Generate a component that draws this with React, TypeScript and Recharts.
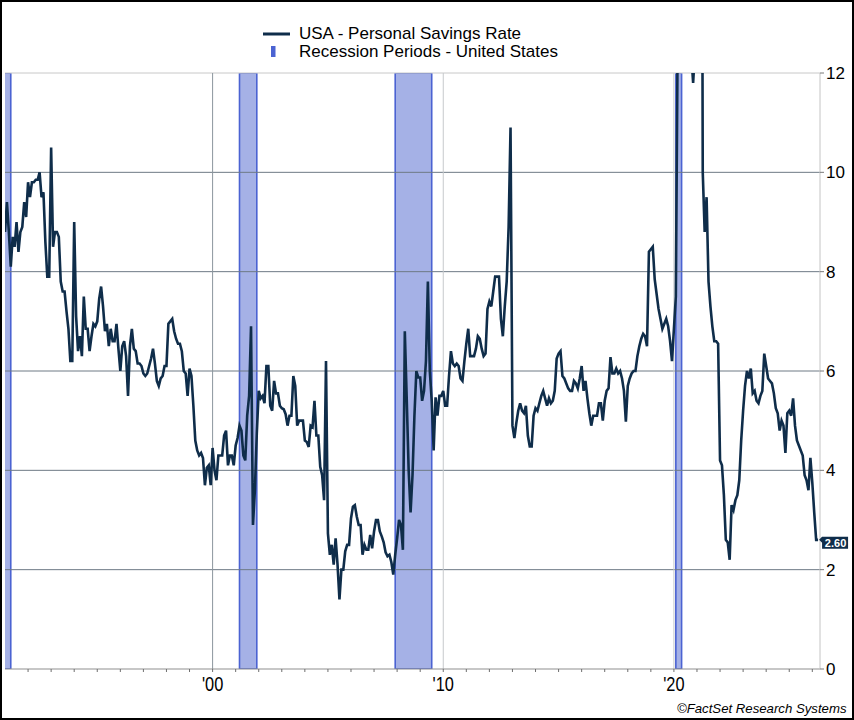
import React from 'react';
import {
  LineChart,
  Line,
  XAxis,
  YAxis,
  ReferenceArea,
  ReferenceLine,
  ReferenceDot,
} from 'recharts';

// monthly personal savings rate, Jan of each year onward
const START_YEAR = 1991;
const rate1991 = [8.8, 9.4, 8.8, 8.1, 8.7, 8.5, 9.0, 8.4, 8.8, 8.9, 9.4, 9.1];
const rate1992 = [9.8, 9.5, 9.8, 9.8, 9.85, 9.85, 10.0, 9.5, 9.6, 8.6, 7.9, 7.9];
const rate1993 = [10.5, 8.5, 8.8, 8.8, 8.7, 7.8, 7.6, 7.6, 7.2, 6.85, 6.2, 6.2];
const rate1994 = [9.0, 7.1, 6.4, 6.7, 6.3, 7.5, 6.85, 6.85, 6.4, 6.7, 6.95, 6.9];
const rate1995 = [7.0, 7.45, 7.7, 7.3, 6.8, 6.95, 6.5, 6.85, 6.6, 6.6, 6.95, 6.45];
const rate1996 = [6.0, 6.5, 6.6, 6.3, 5.5, 6.5, 6.85, 6.45, 6.4, 6.15, 6.15, 6.1];
const rate1997 = [5.95, 5.9, 5.95, 6.1, 6.25, 6.45, 6.15, 5.8, 5.7, 5.85, 5.9, 6.1];
const rate1998 = [6.1, 6.95, 7.0, 7.05, 6.8, 6.65, 6.55, 6.55, 6.4, 6.0, 5.95, 5.5];
const rate1999 = [6.05, 5.9, 5.3, 4.6, 4.4, 4.3, 4.35, 4.25, 3.7, 4.05, 4.1, 3.7];
const rate2000 = [4.45, 4.0, 3.8, 4.3, 4.3, 4.3, 4.7, 4.8, 4.1, 4.3, 4.3, 4.1];
const rate2001 = [4.5, 4.65, 4.9, 4.8, 4.3, 4.2, 5.1, 5.5, 6.9, 2.9, 3.6, 4.75];
const rate2002 = [5.6, 5.45, 5.5, 5.35, 6.1, 6.1, 5.3, 5.2, 5.8, 5.55, 5.55, 5.3];
const rate2003 = [5.25, 5.23, 5.13, 4.9, 5.1, 5.1, 5.9, 5.7, 4.9, 5.0, 5.0, 5.0];
const rate2004 = [4.6, 4.57, 4.47, 4.9, 4.87, 5.4, 4.7, 4.7, 4.07, 3.9, 3.4, 6.2];
const rate2005 = [2.73, 2.3, 2.5, 2.1, 2.63, 2.1, 1.4, 2.0, 2.0, 2.37, 2.5, 2.5];
const rate2006 = [3.03, 3.27, 3.3, 3.07, 2.9, 2.9, 2.3, 2.5, 2.4, 2.4, 2.7, 2.43];
const rate2007 = [2.77, 3.0, 3.0, 2.77, 2.67, 2.55, 2.35, 2.27, 2.3, 2.15, 1.9, 2.3];
const rate2008 = [2.63, 3.0, 2.9, 2.4, 6.8, 5.43, 4.0, 3.15, 3.9, 5.1, 6.0, 5.87];
const rate2009 = [5.87, 5.4, 5.6, 6.2, 7.8, 6.0, 5.4, 4.4, 5.47, 5.1, 5.5, 5.5];
const rate2010 = [5.6, 5.3, 5.3, 5.9, 6.4, 6.15, 6.1, 6.15, 6.1, 5.85, 5.8, 6.2];
const rate2011 = [6.55, 6.85, 6.3, 6.3, 6.3, 6.45, 6.7, 6.65, 6.45, 6.3, 6.35, 7.25];
const rate2012 = [7.4, 7.3, 7.6, 7.9, 7.9, 7.9, 7.05, 6.7, 7.3, 7.8, 8.9, 10.9];
const rate2013 = [4.9, 4.65, 4.95, 5.2, 5.35, 5.2, 5.15, 5.3, 4.7, 4.48, 4.48, 5.1];
const rate2014 = [5.25, 5.2, 5.35, 5.5, 5.6, 5.45, 5.3, 5.45, 5.35, 5.4, 5.6, 6.25];
const rate2015 = [6.35, 6.4, 5.9, 5.85, 5.75, 5.65, 5.6, 5.6, 5.8, 5.75, 5.65, 5.85];
const rate2016 = [6.1, 5.6, 5.8, 5.45, 5.15, 4.9, 5.1, 5.1, 5.1, 5.35, 5.35, 5.0];
const rate2017 = [5.4, 5.6, 5.65, 6.28, 5.95, 5.95, 6.05, 5.95, 6.0, 5.85, 5.6, 4.98];
const rate2018 = [5.7, 5.85, 5.95, 6.0, 6.0, 6.3, 6.5, 6.65, 6.75, 6.7, 6.5, 8.4];
const rate2019 = [8.45, 8.5, 7.85, 7.55, 7.25, 7.05, 6.85, 6.95, 7.05, 6.9, 6.6, 6.2];
const rate2020 = [6.85, 7.5, 13.0, 32.0, 24.5, 19.0, 18.0, 14.5, 14.3, 12.4, 11.8, 12.5];
const rate2021 = [19.5, 13.5, 26.0, 10.0, 8.8, 9.5, 7.8, 7.3, 6.9, 6.6, 6.6, 6.55];
const rate2022 = [4.2, 4.1, 3.5, 2.6, 2.55, 2.2, 3.3, 3.2, 3.4, 3.5, 3.8, 4.6];
const rate2023 = [5.2, 5.7, 6.0, 5.85, 6.05, 5.55, 5.6, 5.4, 5.35, 5.5, 5.6, 6.35];
const rate2024 = [6.1, 5.85, 5.8, 5.75, 5.55, 5.25, 5.15, 4.8, 5.0, 4.9, 4.35, 5.15];
const rate2025 = [5.2, 5.1, 5.45, 4.9, 4.6, 4.5, 4.4, 4.3, 3.9, 3.8, 3.6, 4.25];
const rate2026 = [3.75, 3.15, 2.6, 2.6];

const ratesByYear = [
  rate1991, rate1992, rate1993, rate1994, rate1995, rate1996, rate1997, rate1998, rate1999,
  rate2000, rate2001, rate2002, rate2003, rate2004, rate2005, rate2006, rate2007, rate2008,
  rate2009, rate2010, rate2011, rate2012, rate2013, rate2014, rate2015, rate2016, rate2017,
  rate2018, rate2019, rate2020, rate2021, rate2022, rate2023, rate2024, rate2025, rate2026,
];

// US recessions (NBER), as fractional years
const recessionStart = [1990 + 6 / 12, 2001 + 2 / 12, 2007 + 11 / 12, 2020 + 1 / 12];
const recessionEnd = [1991 + 3 / 12, 2001 + 11 / 12, 2009 + 6 / 12, 2020 + 4 / 12];

const yearTicks = [
  1992, 1993, 1994, 1995, 1996, 1997, 1998, 1999, 2000, 2001, 2002, 2003, 2004, 2005, 2006,
  2007, 2008, 2009, 2010, 2011, 2012, 2013, 2014, 2015, 2016, 2017, 2018, 2019, 2020, 2021,
  2022, 2023, 2024, 2025, 2026,
];
const decadeTicks = [2000, 2010, 2020];
const decadeLabels = ["'00", "'10", "'20"];
const yTicks = [0, 2, 4, 6, 8, 10, 12];
const gridValues = [2, 4, 6, 8, 10];
const lastLabel = '2.60';

const data = ratesByYear.flatMap((vals, i) =>
  vals.map((v, j) => ({ t: START_YEAR + i + j / 12, v }))
);
const lastPoint = data[data.length - 1];

const FONT = '"Liberation Sans", Arial, sans-serif';
const NAVY = '#0f2d4a';

function YearTick({ x, y, payload }: any) {
  const i = decadeTicks.indexOf(payload.value);
  if (i < 0) return null;
  return (
    <text
      transform={`translate(${x},${y + 17}) scale(0.84,1)`}
      textAnchor="middle"
      fontSize={19.5}
      fontFamily={FONT}
      fill="#000"
    >
      {decadeLabels[i]}
    </text>
  );
}

function LastValueTag({ cx, cy }: any) {
  const x0 = cx + 1;
  return (
    <g>
      <path
        d={`M${x0},${cy} L${x0 + 3},${cy - 3} L${x0 + 29},${cy - 3} L${x0 + 29},${cy + 9} L${x0 + 3},${cy + 9} L${x0 + 3},${cy + 3} Z`}
        fill={NAVY}
      />
      <text
        x={x0 + 16.5}
        y={cy + 7}
        textAnchor="middle"
        fontSize={11}
        fontWeight="bold"
        fontFamily={FONT}
        fill="#fff"
      >
        {lastLabel}
      </text>
    </g>
  );
}

export default function App() {
  return (
    <div style={{ position: 'relative', width: 854, height: 720, background: '#fff' }}>
      <style>{'body{margin:0;}'}</style>
      <LineChart
        width={854}
        height={720}
        data={data}
        margin={{ top: 73, right: 0, bottom: 0, left: 5 }}
        style={{ fontFamily: FONT }}
      >
        <XAxis
          dataKey="t"
          type="number"
          domain={[START_YEAR, START_YEAR + 424 / 12]}
          ticks={yearTicks}
          interval={0}
          allowDataOverflow
          height={51}
          tickSize={3}
          tickMargin={2}
          axisLine={{ stroke: '#8f8f8f' }}
          tickLine={{ stroke: '#6f6f6f' }}
          tick={<YearTick />}
        />
        <YAxis
          orientation="right"
          domain={[0, 12]}
          ticks={yTicks}
          allowDataOverflow
          width={34}
          tickSize={4}
          tickMargin={2}
          axisLine={{ stroke: '#c4c4c4' }}
          tickLine={{ stroke: '#7a7a7a' }}
          tick={{ fontSize: 17, fill: '#000', fontFamily: FONT }}
        />
        {recessionStart.map((s, i) => (
          <ReferenceArea
            key={`rec-${i}`}
            x1={s}
            x2={recessionEnd[i]}
            y1={0}
            y2={12}
            ifOverflow="hidden"
            fill="#a5b1e6"
            fillOpacity={1}
            stroke="#4b63d2"
            strokeWidth={1.6}
          />
        ))}
        {gridValues.map((g) => (
          <ReferenceLine key={`g-${g}`} y={g} stroke="#6e7a85" strokeWidth={1} />
        ))}
        <ReferenceLine y={12} stroke="#c8c8c8" strokeWidth={1} />
        {decadeTicks.map((d, i) => (
          <ReferenceLine
            key={`d-${d}`}
            x={d}
            stroke={i === 0 ? '#8c959d' : '#c6c9cc'}
            strokeWidth={1}
          />
        ))}
        <Line
          type="linear"
          dataKey="v"
          stroke={NAVY}
          strokeWidth={2.6}
          dot={false}
          isAnimationActive={false}
        />
        <ReferenceDot
          x={lastPoint.t}
          y={lastPoint.v}
          r={0}
          ifOverflow="visible"
          shape={(p: any) => <LastValueTag {...p} />}
        />
      </LineChart>
      <svg
        width={854}
        height={720}
        style={{ position: 'absolute', left: 0, top: 0, pointerEvents: 'none' }}
        fontFamily={FONT}
      >
        <rect x={1} y={1} width={852} height={718} fill="none" stroke="#000" strokeWidth={2} />
        <line x1={263} x2={290} y1={34} y2={34} stroke={NAVY} strokeWidth={3} />
        <text x={299} y={39.3} fontSize={17} fill="#000">
          USA - Personal Savings Rate
        </text>
        <rect x={271} y={46} width={4.5} height={11} fill="#4b63d2" />
        <text x={299} y={57.3} fontSize={17} fill="#000">
          Recession Periods - United States
        </text>
        <text x={677} y={712.7} fontSize={13.2} fontStyle="italic" fill="#000">
          ©FactSet Research Systems
        </text>
      </svg>
    </div>
  );
}
